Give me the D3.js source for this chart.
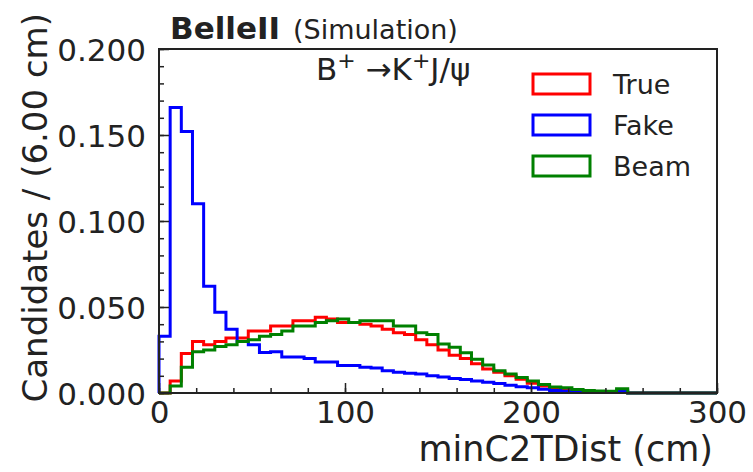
<!DOCTYPE html>
<html>
<head>
<meta charset="utf-8">
<script src="https://cdn.jsdelivr.net/npm/d3@7"></script>
<style>
  body { margin: 0; background: #fff; }
  svg { display: block; font-family: "DejaVu Sans", sans-serif; }
</style>
</head>
<body>
<div id="chart"></div>
<script>
// histogram: 50 bins of 6 cm between 0 and 300 cm
const binWidth = 6;
const binLow = d3.range(0, 300, binWidth);

const trueVals = [
  0.000, 0.007, 0.023, 0.030, 0.028, 0.030, 0.032, 0.032, 0.036, 0.036,
  0.039, 0.039, 0.042, 0.042, 0.044, 0.043, 0.041, 0.041, 0.040, 0.039,
  0.037, 0.035, 0.034, 0.031, 0.028, 0.025, 0.022, 0.020, 0.017, 0.014,
  0.012, 0.010, 0.008, 0.0056, 0.004, 0.003, 0.002, 0.0015, 0.001, 0.0007,
  0.0004, 0.0004, 0, 0, 0, 0, 0, 0, 0, 0
];
const fakeVals = [
  0.033, 0.166, 0.152, 0.110, 0.062, 0.047, 0.037, 0.030, 0.028, 0.0235,
  0.024, 0.021, 0.021, 0.020, 0.018, 0.018, 0.016, 0.016, 0.015, 0.0145,
  0.013, 0.012, 0.0115, 0.011, 0.010, 0.0093, 0.0085, 0.0078, 0.007, 0.0062,
  0.0055, 0.0045, 0.0037, 0.003, 0.0022, 0.0015, 0.001, 0.0008, 0.0005, 0.0004,
  0.0003, 0.0012, 0, 0, 0, 0, 0, 0, 0, 0
];
const beamVals = [
  0.000, 0.004, 0.015, 0.024, 0.025, 0.027, 0.028, 0.030, 0.031, 0.033,
  0.034, 0.036, 0.039, 0.039, 0.041, 0.042, 0.043, 0.041, 0.042, 0.042,
  0.042, 0.039, 0.039, 0.035, 0.034, 0.0285, 0.0266, 0.0234, 0.0196, 0.0163,
  0.013, 0.011, 0.009, 0.007, 0.005, 0.0035, 0.003, 0.002, 0.0015, 0.0012,
  0.001, 0.0025, 0, 0, 0, 0, 0, 0, 0, 0
];

const seriesNames = ["True", "Fake", "Beam"];
const seriesColors = ["#ff0000", "#0000ff", "#008000"];
const seriesVals = [trueVals, fakeVals, beamVals];

const xMajor = [0, 100, 200, 300];
const xMinor = d3.range(0, 301, 20);
const yMajor = [0, 0.05, 0.1, 0.15, 0.2];
const yMinor = d3.range(0, 0.2001, 0.01);

const W = 753, H = 472;
const margin = { top: 49, right: 36, bottom: 79, left: 159 };
const width = W - margin.left - margin.right,
      height = H - margin.top - margin.bottom;

const svg = d3.select("#chart")
  .append("svg")
  .attr("width", W)
  .attr("height", H);

const g = svg.append("g")
  .attr("transform", `translate(${margin.left}, ${margin.top})`);

const x = d3.scaleLinear().domain([0, 300]).range([0, width]);
const y = d3.scaleLinear().domain([0, 0.2]).range([height, 0]);

const line = d3.line()
  .x(d => x(d[0]))
  .y(d => y(d[1]))
  .curve(d3.curveStepAfter);

seriesVals.forEach((vals, i) => {
  const pts = [[0, 0]];
  vals.forEach((v, k) => pts.push([binLow[k], v]));
  pts.push([300, 0]);
  g.append("path")
    .attr("d", line(pts))
    .attr("fill", "none")
    .attr("stroke", seriesColors[i])
    .attr("stroke-width", 3)
    .attr("stroke-linejoin", "miter");
});

// ticks (inward)
const tickColor = "#222";
g.append("g")
  .attr("transform", `translate(0, ${height})`)
  .call(d3.axisBottom(x).tickValues(xMinor).tickSize(-5).tickFormat(""))
  .call(a => a.select(".domain").remove())
  .selectAll("line").attr("stroke", tickColor).attr("stroke-width", 1.5);
g.append("g")
  .attr("transform", `translate(0, ${height})`)
  .call(d3.axisBottom(x).tickValues(xMajor).tickSize(-10).tickPadding(8).tickFormat(d3.format("d")))
  .call(a => a.select(".domain").remove())
  .call(a => a.selectAll("line").attr("stroke", tickColor).attr("stroke-width", 1.5))
  .call(a => a.selectAll("text")
    .attr("fill", "#222")
    .style("font-size", "31px")
    .style("font-family", "DejaVu Sans"));

g.append("g")
  .call(d3.axisLeft(y).tickValues(yMinor).tickSize(-5).tickFormat(""))
  .call(a => a.select(".domain").remove())
  .selectAll("line").attr("stroke", tickColor).attr("stroke-width", 1.5);
g.append("g")
  .call(d3.axisLeft(y).tickValues(yMajor).tickSize(-10).tickPadding(13).tickFormat(d3.format(".3f")))
  .call(a => a.select(".domain").remove())
  .call(a => a.selectAll("line").attr("stroke", tickColor).attr("stroke-width", 1.5))
  .call(a => a.selectAll("text")
    .attr("fill", "#222")
    .attr("dy", "0.36em")
    .style("font-size", "31px")
    .style("font-family", "DejaVu Sans"));

// frame
g.append("rect")
  .attr("width", width)
  .attr("height", height)
  .attr("fill", "none")
  .attr("stroke", "#222")
  .attr("stroke-width", 2);

// axis labels
svg.append("text")
  .attr("x", 713)
  .attr("y", 461)
  .attr("text-anchor", "end")
  .attr("fill", "#222")
  .style("font-size", "35px")
  .text("minC2TDist (cm)");

svg.append("text")
  .attr("transform", `translate(47, ${margin.top}) rotate(-90)`)
  .attr("text-anchor", "end")
  .attr("x", 36)
  .attr("fill", "#222")
  .style("font-size", "34px")
  .text("Candidates / (6.00 cm)");

// experiment label
svg.append("text")
  .attr("x", 170)
  .attr("y", 39)
  .attr("fill", "#222")
  .attr("font-weight", "bold")
  .style("font-size", "31px")
  .text("BelleII");
svg.append("text")
  .attr("x", 293)
  .attr("y", 39)
  .attr("fill", "#222")
  .style("font-size", "27px")
  .text("(Simulation)");

// decay label
const decay = svg.append("text")
  .attr("x", 316)
  .attr("y", 80)
  .attr("fill", "#222")
  .style("font-size", "31px");
decay.append("tspan").text("B");
decay.append("tspan").attr("dy", -12).style("font-size", "22px").text("+");
decay.append("tspan").attr("dy", 12).text("  \u2192K");
decay.append("tspan").attr("dy", -12).style("font-size", "22px").text("+");
decay.append("tspan").attr("dy", 12).text("J/\u03c8");

// legend
const legend = svg.append("g").attr("transform", "translate(533, 74)");
seriesNames.forEach((name, i) => {
  const row = legend.append("g").attr("transform", `translate(0, ${i * 41})`);
  row.append("rect")
    .attr("width", 57)
    .attr("height", 20)
    .attr("fill", "none")
    .attr("stroke", seriesColors[i])
    .attr("stroke-width", 3);
  row.append("text")
    .attr("x", 80)
    .attr("y", 10)
    .attr("dy", "0.36em")
    .attr("fill", "#222")
    .style("font-size", "27px")
    .text(name);
});
</script>
</body>
</html>
